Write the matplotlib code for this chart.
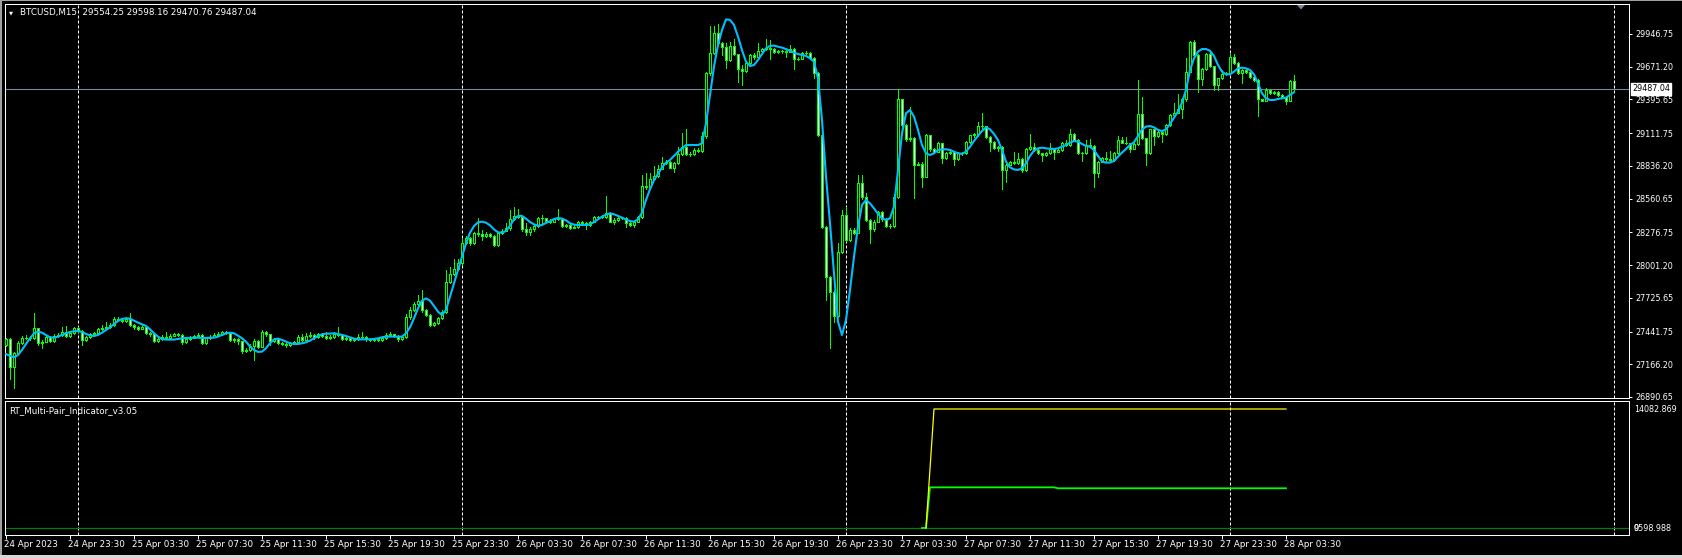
import matplotlib
matplotlib.use("Agg")
import matplotlib.pyplot as plt
import matplotlib.transforms as mtrans
import numpy as np
from matplotlib.patches import Rectangle, Polygon
from matplotlib.collections import LineCollection, PatchCollection

# ---------------- data (BTCUSD M15, 24 Apr 19:30 -> 28 Apr 04:00) ----------------
first_open = 27329
closes = [
 27376, 27146, 27259, 27348, 27385, 27390, 27385, 27469, 27348, 27357,
 27399, 27365, 27404, 27413, 27441, 27404, 27427, 27469, 27449, 27371,
 27393, 27421, 27427, 27461, 27472, 27483, 27497, 27548, 27539, 27533,
 27545, 27497, 27477, 27466, 27483, 27432, 27418, 27362, 27379, 27399,
 27390, 27407, 27421, 27413, 27354, 27376, 27390, 27404, 27413, 27348,
 27385, 27399, 27413, 27421, 27435, 27432, 27368, 27379, 27362, 27278,
 27287, 27320, 27365, 27315, 27441, 27421, 27362, 27376, 27348, 27337,
 27326, 27343, 27351, 27399, 27371, 27404, 27410, 27393, 27421, 27404,
 27385, 27399,
 27421, 27413, 27376, 27385, 27371, 27376, 27393, 27399, 27376, 27371,
 27376, 27371, 27385, 27413, 27421, 27404, 27376, 27393, 27562, 27623,
 27674, 27702, 27623, 27581, 27497, 27511, 27553, 27609, 27862, 27926,
 27966, 28016, 28184, 28227, 28184, 28269, 28260, 28246, 28263, 28246,
 28170, 28269, 28291, 28311, 28386, 28414, 28403, 28302, 28283, 28302,
 28330, 28395, 28395, 28375, 28367, 28386, 28392, 28330, 28339, 28316,
 28325, 28367, 28353, 28339, 28367, 28403, 28403, 28409, 28443, 28367,
 28381, 28395, 28398, 28358, 28339, 28367, 28403, 28667, 28656, 28723,
 28750,
 28808, 28864, 28872, 28822, 28858, 28937, 28993, 28934, 28934, 28970,
 28965, 29088, 29616, 29790, 29958, 29868, 29840, 29728, 29846, 29776,
 29649, 29638, 29700, 29770, 29750, 29804, 29818, 29826, 29818, 29795,
 29806, 29801, 29798, 29820, 29736, 29740, 29784, 29790, 29747, 29616,
 29097, 28325, 27904, 27778, 27573, 28115, 28423, 28213, 28297, 28274,
 28690, 28577, 28381, 28302, 28367, 28451, 28387, 28330, 28330, 28577,
 29397, 29181, 29060, 29074, 28844, 28852, 28746, 29097, 28976, 28956,
 29032, 28900, 28942, 28956, 28892, 28942, 28942, 29040, 29097, 29105,
 29172,
 29175, 29082, 29040, 28984, 28998, 28802, 28844, 28872, 28858, 28892,
 28802, 28976, 28993, 28970, 28942, 28928, 28948, 28976, 28956, 28970,
 29026, 29012, 29105, 29054, 28942, 28942, 29012, 29004, 28774, 28872,
 28900, 28892, 28886, 28942, 29054, 29032, 29026, 28976, 29021, 29273,
 29068, 28942, 29144, 29088, 29125, 29105, 29181, 29265, 29285, 29313,
 29397, 29630, 29882, 29770, 29565, 29649, 29778, 29677, 29517, 29574,
 29610, 29616, 29750, 29705, 29616, 29644, 29630, 29588, 29560, 29397,
 29385, 29475, 29447, 29461, 29433, 29414, 29385, 29554.25, 29487.04,
]
highs = [
 27390, 27385, 27270, 27360, 27400, 27410, 27405, 27595, 27475, 27370,
 27410, 27405, 27420, 27430, 27483, 27489, 27440, 27480, 27480, 27455,
 27405, 27430, 27440, 27470, 27497, 27525, 27510, 27560, 27565, 27555,
 27560, 27595, 27505, 27485, 27495, 27490, 27440, 27425, 27395, 27410,
 27441, 27420, 27432, 27430, 27420, 27390, 27400, 27415, 27427, 27418,
 27395, 27410, 27427, 27440, 27449, 27445, 27440, 27390, 27385, 27365,
 27300, 27335, 27375, 27370, 27455, 27449, 27425, 27390, 27385, 27355,
 27345, 27355, 27360, 27410, 27420, 27430, 27440, 27418, 27432, 27427,
 27441, 27413,
 27435, 27480, 27420, 27395, 27390, 27390, 27418, 27441, 27405, 27385,
 27390, 27385, 27400, 27430, 27435, 27425, 27410, 27405, 27590, 27651,
 27690, 27750, 27792, 27630, 27590, 27525, 27565, 27620, 27960, 27982,
 28050, 28050, 28224, 28245, 28235, 28280, 28395, 28297, 28280, 28275,
 28255, 28280, 28305, 28358, 28465, 28488, 28471, 28410, 28358, 28320,
 28345, 28403, 28420, 28400, 28385, 28400, 28473, 28400, 28350, 28345,
 28335, 28375, 28375, 28360, 28375, 28415, 28415, 28420, 28583, 28450,
 28395, 28405, 28410, 28405, 28365, 28375, 28415, 28760, 28779, 28774,
 28835,
 28844, 28914, 28890, 28880, 28870, 28998, 29110, 29144, 28950, 28985,
 28985, 29125, 29630, 30014, 30014, 30031, 29882, 29868, 29882, 29902,
 29780, 29686, 29710, 29780, 29790, 29868, 29830, 29902, 29896, 29830,
 29815, 29815, 29810, 29854, 29825, 29750, 29795, 29800, 29795, 29750,
 29630, 29100, 28330, 27910, 27790, 28185, 28465, 28493, 28310, 28310,
 28760, 28760, 28611, 28390, 28380, 28460, 28460, 28395, 28345, 28600,
 29481, 29400, 29190, 29335, 29080, 28870, 28870, 29105, 29100, 28985,
 29040, 29030, 28950, 28975, 28960, 28950, 28950, 29045, 29100, 29110,
 29209,
 29279, 29175, 29085, 29045, 29005, 29000, 28855, 28880, 28956, 28948,
 28900, 28985, 29105, 29032, 28975, 28945, 28955, 29032, 28985, 28985,
 29035, 29054, 29144, 29110, 29060, 28955, 29054, 29060, 29010, 28880,
 28910, 28956, 28965, 28950, 29088, 29082, 29077, 29030, 29030, 29560,
 29419, 29075, 29150, 29150, 29135, 29135, 29190, 29270, 29369, 29442,
 29405, 29742, 29890, 29896, 29775, 29660, 29785, 29812, 29680, 29580,
 29644, 29625, 29778, 29778, 29710, 29650, 29650, 29635, 29595, 29565,
 29400, 29489, 29480, 29470, 29470, 29440, 29419, 29560, 29598.16,
]
lows = [
 27320, 27040, 26970, 27250, 27340, 27375, 27370, 27380, 27330, 27301,
 27350, 27350, 27355, 27395, 27405, 27395, 27395, 27420, 27440, 27329,
 27360, 27385, 27415, 27420, 27455, 27465, 27475, 27490, 27530, 27520,
 27525, 27490, 27465, 27455, 27460, 27425, 27405, 27350, 27355, 27370,
 27385, 27385, 27400, 27405, 27340, 27345, 27370, 27385, 27395, 27335,
 27340, 27380, 27395, 27405, 27415, 27420, 27360, 27355, 27340, 27265,
 27270, 27280, 27202, 27305, 27310, 27405, 27330, 27350, 27340, 27325,
 27315, 27320, 27335, 27345, 27360, 27365, 27395, 27380, 27385, 27395,
 27375, 27380,
 27390, 27405, 27370, 27370, 27360, 27365, 27370, 27385, 27365, 27360,
 27365, 27360, 27365, 27380, 27405, 27395, 27365, 27370, 27385, 27550,
 27615, 27665, 27610, 27570, 27485, 27490, 27505, 27545, 27600, 27850,
 27915, 27960, 28005, 28175, 28170, 28180, 28250, 28213, 28235, 28235,
 28160, 28165, 28260, 28285, 28300, 28380, 28395, 28290, 28255, 28255,
 28290, 28320, 28358, 28365, 28355, 28360, 28380, 28322, 28322, 28305,
 28310, 28315, 28345, 28305, 28330, 28360, 28395, 28400, 28400, 28360,
 28347, 28370, 28390, 28325, 28330, 28319, 28360, 28395, 28645, 28650,
 28715,
 28746, 28855, 28850, 28815, 28788, 28850, 28930, 28925, 28920, 28925,
 28950, 28955, 29075, 29600, 29780, 29860, 29770, 29658, 29720, 29770,
 29545, 29517, 29630, 29690, 29740, 29745, 29800, 29810, 29733, 29785,
 29790, 29790, 29756, 29795, 29649, 29725, 29735, 29770, 29740, 29573,
 29085, 28310, 27707, 27301, 27525, 27560, 28100, 28200, 28200, 28260,
 28270, 28560, 28370, 28185, 28290, 28360, 28375, 28320, 28315, 28320,
 28570, 29170, 29050, 29050, 28563, 28840, 28662, 28740, 28965, 28945,
 28950, 28858, 28895, 28940, 28844, 28885, 28930, 28935, 29025, 29080,
 29090,
 29150, 29070, 28965, 28975, 28960, 28639, 28704, 28840, 28850, 28855,
 28788, 28795, 28970, 28960, 28935, 28880, 28920, 28940, 28892, 28950,
 28960, 29000, 29005, 29045, 28935, 28880, 28935, 28995, 28662, 28746,
 28865, 28880, 28870, 28880, 28935, 29025, 29020, 28956, 28975, 29015,
 29060, 28844, 28935, 29012, 29080, 29040, 29100, 29175, 29260, 29280,
 29237, 29380, 29625, 29760, 29461, 29517, 29640, 29670, 29475, 29475,
 29565, 29600, 29610, 29695, 29610, 29537, 29620, 29580, 29555, 29257,
 29380, 29380, 29440, 29440, 29425, 29405, 29357, 29380, 29470.76,
]
ma_line = [
 27253, 27236, 27225, 27244, 27287, 27337, 27385, 27427, 27441, 27432,
 27413, 27393, 27390, 27399, 27413, 27427, 27438, 27444, 27446, 27438,
 27421, 27410, 27404, 27413, 27432, 27455, 27477, 27505, 27531, 27548,
 27553, 27550, 27533, 27517, 27503, 27489, 27461, 27427, 27399, 27379,
 27374, 27374, 27374, 27379, 27385, 27388, 27388, 27390, 27390, 27388,
 27388, 27390, 27390, 27399, 27413, 27427, 27432, 27427, 27407, 27385,
 27357, 27315, 27287, 27270, 27273, 27301, 27343, 27376, 27382, 27371,
 27357, 27343, 27337, 27337, 27343, 27351, 27365, 27385, 27404, 27418,
 27424, 27424,
 27427, 27421, 27413, 27404, 27393, 27382, 27376, 27376, 27376, 27376,
 27379, 27385, 27393, 27399, 27399, 27399, 27399, 27399, 27427, 27477,
 27553, 27637, 27702, 27721, 27702, 27657, 27609, 27581, 27623, 27735,
 27848, 27960, 28072, 28184, 28274, 28330, 28361, 28367, 28358, 28336,
 28302, 28277, 28274, 28288, 28333, 28386, 28415, 28415, 28392, 28364,
 28344, 28333, 28339, 28356, 28370, 28389, 28398, 28392, 28378, 28353,
 28342, 28339, 28339, 28339, 28344, 28364, 28386, 28409, 28426, 28437,
 28429, 28415, 28401, 28384, 28372, 28367, 28386, 28443, 28549, 28640,
 28715,
 28770, 28824, 28864, 28886, 28920, 28956, 28984, 29012, 29012, 29012,
 29012, 29026, 29195, 29433, 29672, 29854, 29980, 30070, 30065, 30023,
 29924, 29812, 29714, 29677, 29686, 29728, 29778, 29826, 29846, 29849,
 29840, 29832, 29820, 29806, 29790, 29778, 29770, 29762, 29742, 29714,
 29574, 29223, 28746, 28353, 27932, 27525, 27413, 27539, 27792, 28072,
 28325, 28507, 28549, 28521, 28479, 28432, 28395, 28381, 28395, 28493,
 28802, 29110, 29279, 29307, 29251, 29139, 29012, 28942, 28928, 28942,
 28970, 28976, 28976, 28970, 28956, 28942, 28937, 28956, 28998, 29046,
 29090,
 29130, 29161, 29144, 29105, 29054, 28970, 28872, 28824, 28807, 28802,
 28816, 28858, 28920, 28965, 28984, 28990, 28984, 28981, 28979, 28984,
 28998, 29012, 29032, 29046, 29040, 29021, 29004, 28998, 28970, 28920,
 28872, 28864, 28864, 28878, 28914, 28948, 28979, 29012, 29035, 29088,
 29144, 29167, 29172, 29161, 29139, 29130, 29144, 29189, 29242, 29293,
 29369, 29475, 29644, 29742, 29798, 29820, 29820, 29806, 29762, 29686,
 29630, 29607, 29607, 29630, 29658, 29663, 29658, 29644, 29607, 29531,
 29447, 29405, 29391, 29391, 29400, 29405, 29411, 29433, 29456,
]
bid_price = 29487.04
header = "BTCUSD,M15  29554.25 29598.16 29470.76 29487.04"

price_ticks = [29946.75, 29671.20, 29395.65, 29111.75, 28836.20, 28560.65,
               28276.75, 28001.20, 27725.65, 27441.75, 27166.20, 26890.65]

time_tick_bars = [0, 16, 32, 48, 64, 80, 96, 112, 128, 144, 160, 176, 192,
                  208, 224, 240, 256, 272, 288, 304, 320]
time_tick_labels = ["24 Apr 2023", "24 Apr 23:30", "25 Apr 03:30", "25 Apr 07:30",
                    "25 Apr 11:30", "25 Apr 15:30", "25 Apr 19:30", "25 Apr 23:30",
                    "26 Apr 03:30", "26 Apr 07:30", "26 Apr 11:30", "26 Apr 15:30",
                    "26 Apr 19:30", "26 Apr 23:30", "27 Apr 03:30", "27 Apr 07:30",
                    "27 Apr 11:30", "27 Apr 15:30", "27 Apr 19:30", "27 Apr 23:30",
                    "28 Apr 03:30"]
midnight_bars = [18, 114, 210, 306, 402]

# indicator sub-window
ind_name = "RT_Multi-Pair_Indicator_v3.05"
yellow_bars = [230, 231, 232, 320]
yellow_vals = [0, 7000, 14082.869, 14082.869]
lime_bars = [229, 230, 231, 262, 263, 320]
lime_vals = [0, 0, 4812, 4812, 4700, 4700]
ind_max_label = "14082.869"
ind_min_labels = ["9598.988", "0"]

# ---------------- figure ----------------
W, H, DPI = 1682, 558, 100
fig = plt.figure(figsize=(W / DPI, H / DPI), dpi=DPI, facecolor="black")
plt.rcParams["font.family"] = "DejaVu Sans"

def fx(px):
    return px / W

def fy(py):
    return 1 - py / H

L, R = 5, 1629
ax = fig.add_axes([fx(L), fy(398), (R - L) / W, (398 - 4) / H])
axi = fig.add_axes([fx(L), fy(535), (R - L) / W, (535 - 401) / H])

FS = 5.8      # price scale labels
FT = 6.3      # other texts
WHITE = "white"
LIME = "#00FF00"

closes_a = np.array(closes, dtype=float)
opens_a = np.concatenate([[first_open], closes_a[:-1]])
highs_a = np.maximum(np.array(highs, dtype=float), np.maximum(opens_a, closes_a))
lows_a = np.minimum(np.array(lows, dtype=float), np.minimum(opens_a, closes_a))
n = len(closes_a)
xs = np.arange(n)

for a in (ax, axi):
    a.set_facecolor("black")
    a.set_xlim(-0.25, 405.75)
    for s in a.spines.values():
        s.set_color(WHITE)
        s.set_linewidth(0.72)

ax.set_ylim(26882.2, 30199.3)
axi.set_ylim(-828, 15030)

# grid (midnight separators)
for a in (ax, axi):
    for b in midnight_bars:
        a.axvline(b, color=WHITE, lw=0.72, linestyle=(0, (3, 2)), zorder=1)

# bid line
ax.axhline(bid_price, color="#778899", lw=0.8, zorder=2)

# wicks
segs = [[(x, lo), (x, hi)] for x, lo, hi in zip(xs, lows_a, highs_a)]
ax.add_collection(LineCollection(segs, colors=LIME, linewidths=0.72,
                                 antialiaseds=False, zorder=3))
# bodies
rects_bull, rects_bear = [], []
for x, o, c in zip(xs, opens_a, closes_a):
    r = Rectangle((x - 0.25, min(o, c)), 0.5, abs(c - o))
    (rects_bull if c >= o else rects_bear).append(r)
ax.add_collection(PatchCollection(rects_bull, facecolor="black", edgecolor=LIME,
                                  linewidths=0.72, antialiaseds=False, zorder=4))
ax.add_collection(PatchCollection(rects_bear, facecolor="white", edgecolor=LIME,
                                  linewidths=0.72, antialiaseds=False, zorder=4))

# moving-average line
ax.plot(xs, ma_line, color="#00BFFF", lw=1.5, zorder=5, solid_joinstyle="round")

# price axis
ax.set_xticks([])
ax.yaxis.tick_right()
ax.set_yticks(price_ticks)
ax.set_yticklabels([f"{v:.2f}" for v in price_ticks])
ax.tick_params(axis="y", colors=WHITE, labelcolor=WHITE, length=2.2, width=0.72,
               labelsize=FS, pad=2.2)

# bid label box
bt = mtrans.blended_transform_factory(fig.transFigure, ax.transData)
ax.text(fx(1632), bid_price, f"{bid_price:.2f}", transform=bt, ha="left", va="center",
        fontsize=FS, color="black",
        bbox=dict(boxstyle="square,pad=0.18", facecolor="white", edgecolor="white"),
        zorder=10, clip_on=False)

# header
fig.text(fx(9), fy(12.5), "\u25BC", fontsize=3.8, color=WHITE, va="center", ha="left")
fig.text(fx(20), fy(12.5), header, fontsize=FT, color=WHITE, va="center", ha="left")

# chart-shift marker
tri = Polygon([(fx(1297), fy(5)), (fx(1305), fy(5)), (fx(1301), fy(9.5))],
              closed=True, transform=fig.transFigure, facecolor="#7a8796",
              edgecolor="none", zorder=20)
fig.patches.append(tri)

# indicator window
axi.axhline(0, color="#008000", lw=0.9, zorder=2)
axi.plot(lime_bars, lime_vals, color=LIME, lw=1.3, zorder=3)
axi.plot(yellow_bars, yellow_vals, color="#FFFF00", lw=0.9, zorder=3)
fig.text(fx(9), fy(411), ind_name, fontsize=FT, color=WHITE, va="center", ha="left")
axi.set_yticks([])
it = mtrans.blended_transform_factory(fig.transFigure, axi.transData)
axi.text(fx(1634), 14082.869, ind_max_label, transform=it, fontsize=FS, color=WHITE,
         va="center", ha="left", clip_on=False)
for lab in ind_min_labels:
    axi.text(fx(1634), 0, lab, transform=it, fontsize=FS, color=WHITE,
             va="center", ha="left", clip_on=False)

# time axis
axi.set_xticks(time_tick_bars)
axi.set_xticklabels(time_tick_labels, ha="left")
axi.tick_params(axis="x", colors=WHITE, labelcolor=WHITE, length=2.9, width=0.72,
                labelsize=FT, pad=0.8, direction="out")
off = mtrans.ScaledTranslation(-2 / DPI, 0, fig.dpi_scale_trans)
for lbl in axi.get_xticklabels():
    lbl.set_transform(lbl.get_transform() + off)

# window frame
fig.patches.append(Rectangle((0, fy(1)), 1, 1 / H, transform=fig.transFigure,
                             facecolor="#a0a0a0", edgecolor="none"))
fig.patches.append(Rectangle((0, 0), 1.5 / W, 1, transform=fig.transFigure,
                             facecolor="#a0a0a0", edgecolor="none"))
fig.patches.append(Rectangle((0, 0), 1, 3 / H, transform=fig.transFigure,
                             facecolor="#d8d8d8", edgecolor="none"))

fig.savefig("out.png", dpi=DPI, facecolor="black")
